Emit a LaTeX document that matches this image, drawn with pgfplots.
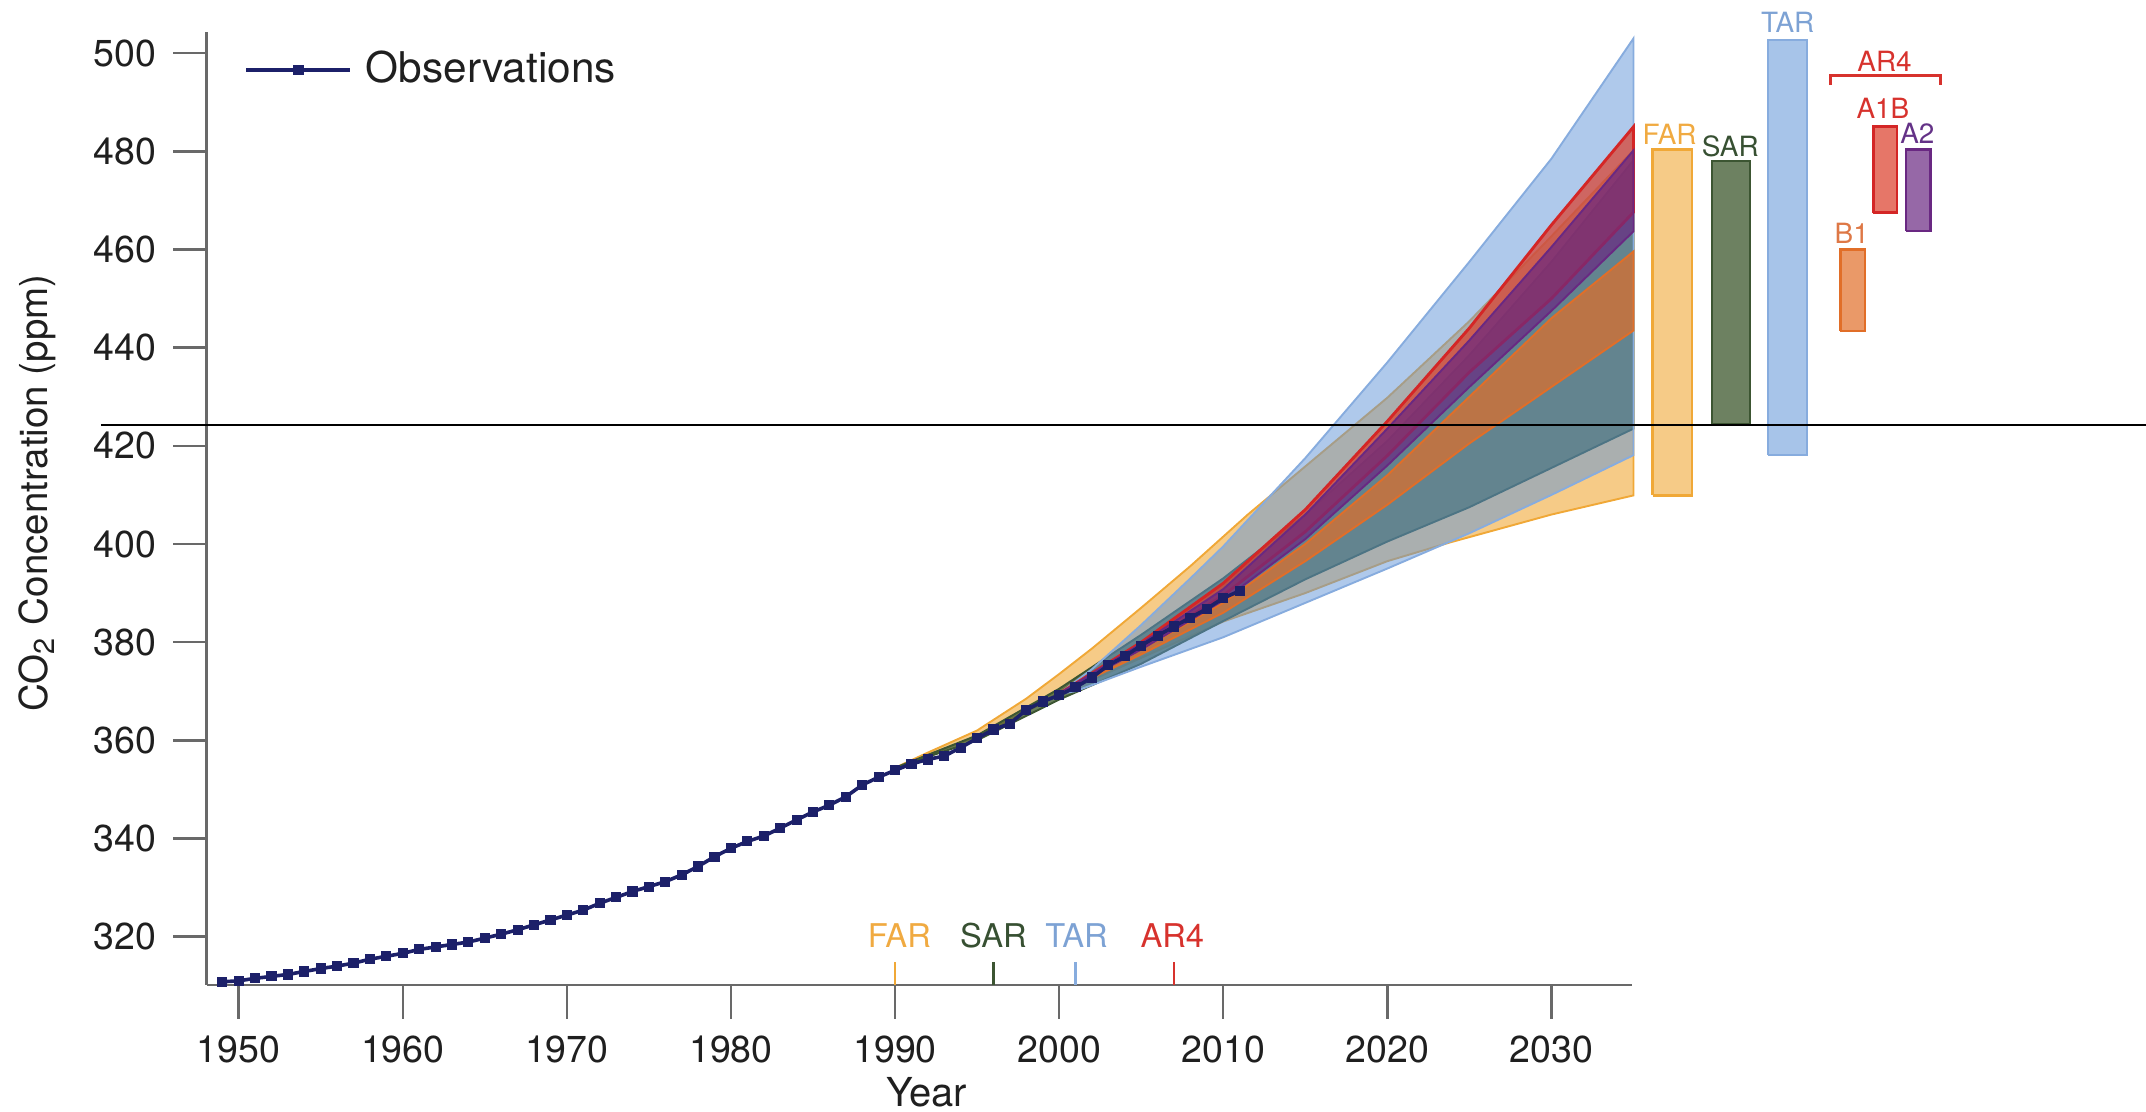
\documentclass[border=0pt]{standalone}
\usepackage{pgfplots}
\pgfplotsset{compat=1.18}
\usepackage{fontspec}
\setmainfont{TeX Gyre Heros}
\definecolor{farc}{RGB}{240,168,55}
\definecolor{sarc}{RGB}{72,98,58}
\definecolor{sarline}{RGB}{60,85,50}
\definecolor{tarc}{RGB}{95,148,215}
\definecolor{tarline}{RGB}{135,172,222}
\definecolor{b1c}{RGB}{225,110,40}
\definecolor{a1bc}{RGB}{220,60,40}
\definecolor{a1bline}{RGB}{212,38,38}
\definecolor{a2c}{RGB}{105,40,130}
\definecolor{obsnavy}{RGB}{28,32,105}
\definecolor{axisgrey}{RGB}{105,105,105}
\definecolor{farlab}{RGB}{240,170,65}
\definecolor{sarlab}{RGB}{55,80,50}
\definecolor{tarlab}{RGB}{125,162,212}
\definecolor{ar4red}{RGB}{215,50,45}
\definecolor{a2lab}{RGB}{100,50,135}
\definecolor{b1lab}{RGB}{222,120,70}
\begin{document}
\begin{tikzpicture}
\useasboundingbox (-1.51cm,-0.923cm) rectangle (14.17cm,7.197cm);
\begin{axis}[
  scale only axis, width=10.413cm, height=6.966cm,
  xmin=1948.05, xmax=2034.9, ymin=310.15, ymax=504.4,
  axis x line*=bottom, axis y line*=left,
  axis line style={draw=axisgrey, line width=0.5pt},
  xtick={1950,1960,...,2030}, ytick={320,340,...,500},
  tick align=outside, major tick length=0.245cm,
  tick style={draw=axisgrey, line width=0.5pt},
  /pgf/number format/1000 sep={},
  /pgf/number format/assume math mode=true,
  tick label style={font=\fontsize{7.8}{9}\selectfont, text=black!88},
  xlabel={Year}, ylabel={CO\textsubscript{2} Concentration (ppm)},
  every axis x label/.style={at={(axis description cs:0.505,-0.112)}, anchor=center, font=\fontsize{8.3}{10}\selectfont, text=black!88},
  every axis y label/.style={at={(axis description cs:-0.119,0.516)}, anchor=center, rotate=90, font=\fontsize{8}{10}\selectfont, text=black!88},
  clip=false,
  legend style={at={(axis description cs:0.026,0.9594)}, anchor=west, draw=none, fill=none, inner sep=0pt, column sep=0.1cm, nodes={inner sep=0pt}, font=\fontsize{8.8}{10}\selectfont, text=black!88},
  legend image code/.code={\draw[mark repeat=2,mark phase=2,#1] plot coordinates {(0cm,0cm) (0.38cm,0cm) (0.76cm,0cm)};},
]
% FAR band
\addplot[fill=farc, fill opacity=0.6, draw=farc, line width=0.4pt, forget plot] coordinates {
(1990,354.4) (1992,357.5) (1995,362) (1998,368.5) (2000,373.5) (2002,378.7) (2005,387) (2008,395.5) (2011.5,406) (2015,415.8) (2020,429.8) (2025,445.4) (2030,462.7) (2035,480.2)
(2035,409.9) (2030,406) (2023.8,400.3) (2020,396.5) (2015,390) (2010,384.2) (2005,376.8) (2000,369.3) (1995,360.8) (1990,354.4)};
% SAR band
\addplot[fill=sarc, fill opacity=0.82, draw=sarline, line width=0.4pt, forget plot] coordinates {
(1990,354.4) (1995,361) (2000,370.5) (2005,381.5) (2010,393) (2015,406) (2020,421) (2025,438.5) (2030,457.5) (2035,478.2)
(2035,423.5) (2030,415.5) (2025,407.5) (2020,400.5) (2015,392.8) (2010,384.3) (2005,375.6) (2000,368.3) (1995,360) (1990,354.4)};
% TAR band
\addplot[fill=tarc, fill opacity=0.5, draw=tarline, line width=0.4pt, forget plot] coordinates {
(2000,369.5) (2002,374.5) (2005,383.5) (2008,393) (2010,399.5) (2015,417.5) (2020,437) (2025,457.5) (2030,478.5) (2035,503)
(2035,418.1) (2030,410) (2025,402.2) (2020,395) (2015,388) (2010,381) (2005,375) (2001,370) (2000,369.5)};
% AR4 B1
\addplot[fill=b1c, fill opacity=0.7, draw=b1c, line width=0.4pt, forget plot] coordinates {
(2000,369.5) (2005,378.5) (2010,388) (2015,400) (2020,414) (2025,430) (2030,446) (2035,459.6)
(2035,443.5) (2030,432) (2025,420.5) (2020,408) (2015,396.5) (2010,386) (2005,377.5) (2000,369.5)};
% AR4 A1B
\addplot[fill=a1bc, fill opacity=0.7, draw=a1bline, line width=0.6pt, forget plot] coordinates {
(2000,369.5) (2005,380) (2010,392) (2015,407) (2020,425) (2025,444) (2030,465) (2035,485)
(2035,467.6) (2030,450) (2025,435) (2020,418) (2015,402.5) (2010,389.5) (2005,379) (2000,369.5)};
% AR4 A2
\addplot[fill=a2c, fill opacity=0.7, draw=a2c, line width=0.4pt, forget plot] coordinates {
(2000,369.5) (2005,379.7) (2010,390.8) (2015,406) (2020,423.5) (2025,441.5) (2030,460.5) (2035,480.2)
(2035,463.7) (2030,447.5) (2025,432) (2020,416) (2015,401) (2010,388.5) (2005,378.5) (2000,369.5)};
% Observations
\addplot[color=obsnavy, line width=0.75pt, mark=square*, mark size=0.68pt, mark options={solid}] coordinates {
(1949,310.8) (1950,311.0) (1951,311.5) (1952,311.9) (1953,312.3) (1954,312.9) (1955,313.5) (1956,314.0) (1957,314.6) (1958,315.4)
(1959,316.0) (1960,316.6) (1961,317.4) (1962,317.9) (1963,318.4) (1964,318.9) (1965,319.7) (1966,320.5) (1967,321.4) (1968,322.4)
(1969,323.4) (1970,324.4) (1971,325.4) (1972,326.8) (1973,328.0) (1974,329.2) (1975,330.2) (1976,331.2) (1977,332.6) (1978,334.3)
(1979,336.3) (1980,338.0) (1981,339.4) (1982,340.5) (1983,342.1) (1984,343.8) (1985,345.4) (1986,346.8) (1987,348.5) (1988,350.9)
(1989,352.5) (1990,353.9) (1991,355.2) (1992,356.1) (1993,356.8) (1994,358.5) (1995,360.4) (1996,362.2) (1997,363.4) (1998,366.2)
(1999,367.9) (2000,369.2) (2001,370.8) (2002,372.8) (2003,375.3) (2004,377.1) (2005,379.3) (2006,381.3) (2007,383.2) (2008,385.0)
(2009,386.8) (2010,389.0) (2011,390.4)};
\addlegendentry{Observations}
% range bars at 2035
\addplot[fill=farc, fill opacity=0.6, draw=farc, line width=0.55pt, forget plot] coordinates {(2036.17,409.9) (2038.56,409.9) (2038.56,480.4) (2036.17,480.4) (2036.17,409.9)};
\addplot[fill=sarc, fill opacity=0.8, draw=sarline, line width=0.55pt, forget plot] coordinates {(2039.78,424.3) (2042.11,424.3) (2042.11,478.0) (2039.78,478.0) (2039.78,424.3)};
\addplot[fill=tarc, fill opacity=0.55, draw=tarline, line width=0.55pt, forget plot] coordinates {(2043.19,418.1) (2045.58,418.1) (2045.58,502.7) (2043.19,502.7) (2043.19,418.1)};
\addplot[fill=b1c, fill opacity=0.7, draw=b1c, line width=0.55pt, forget plot] coordinates {(2047.6,443.4) (2049.1,443.4) (2049.1,460.0) (2047.6,460.0) (2047.6,443.4)};
\addplot[fill=a1bc, fill opacity=0.7, draw=a1bline, line width=0.55pt, forget plot] coordinates {(2049.62,467.5) (2051.06,467.5) (2051.06,485.0) (2049.62,485.0) (2049.62,467.5)};
\addplot[fill=a2c, fill opacity=0.7, draw=a2c, line width=0.55pt, forget plot] coordinates {(2051.6,463.8) (2053.1,463.8) (2053.1,480.4) (2051.6,480.4) (2051.6,463.8)};
% labels of the bars
\node[text=farlab, font=\fontsize{5.8}{6}\selectfont] at (axis cs:2037.2,483.4) {FAR};
\node[text=sarlab, font=\fontsize{5.8}{6}\selectfont] at (axis cs:2040.9,481.1) {SAR};
\node[text=tarlab, font=\fontsize{5.8}{6}\selectfont] at (axis cs:2044.4,506.3) {TAR};
\node[text=ar4red, font=\fontsize{5.8}{6}\selectfont] at (axis cs:2050.3,498.4) {AR4};
\draw[ar4red, line width=0.6pt] (axis cs:2047.0,493.5) -- (axis cs:2047.0,495.4) -- (axis cs:2053.7,495.4) -- (axis cs:2053.7,493.5);
\node[text=ar4red, font=\fontsize{5.8}{6}\selectfont] at (axis cs:2050.2,488.7) {A1B};
\node[text=a2lab, font=\fontsize{5.8}{6}\selectfont] at (axis cs:2052.3,483.6) {A2};
\node[text=b1lab, font=\fontsize{5.8}{6}\selectfont] at (axis cs:2048.3,463.3) {B1};
% report year markers
\draw[farc, line width=0.5pt] (axis cs:1990,310.15) -- (axis cs:1990,314.8);
\draw[sarline, line width=0.5pt] (axis cs:1996,310.15) -- (axis cs:1996,314.8);
\draw[tarline, line width=0.5pt] (axis cs:2001,310.15) -- (axis cs:2001,314.8);
\draw[ar4red, line width=0.5pt] (axis cs:2007,310.15) -- (axis cs:2007,314.8);
\node[text=farlab, font=\fontsize{6.8}{7}\selectfont] at (axis cs:1990.26,320.25) {FAR};
\node[text=sarlab, font=\fontsize{6.8}{7}\selectfont] at (axis cs:1996.0,320.25) {SAR};
\node[text=tarlab, font=\fontsize{6.8}{7}\selectfont] at (axis cs:2001.06,320.25) {TAR};
\node[text=ar4red, font=\fontsize{6.8}{7}\selectfont] at (axis cs:2006.9,320.25) {AR4};
% horizontal line across the picture
\draw[black, line width=0.45pt] (axis cs:1941.6,424.3) -- (axis cs:2066.3,424.3);
\end{axis}
\end{tikzpicture}
\end{document}
